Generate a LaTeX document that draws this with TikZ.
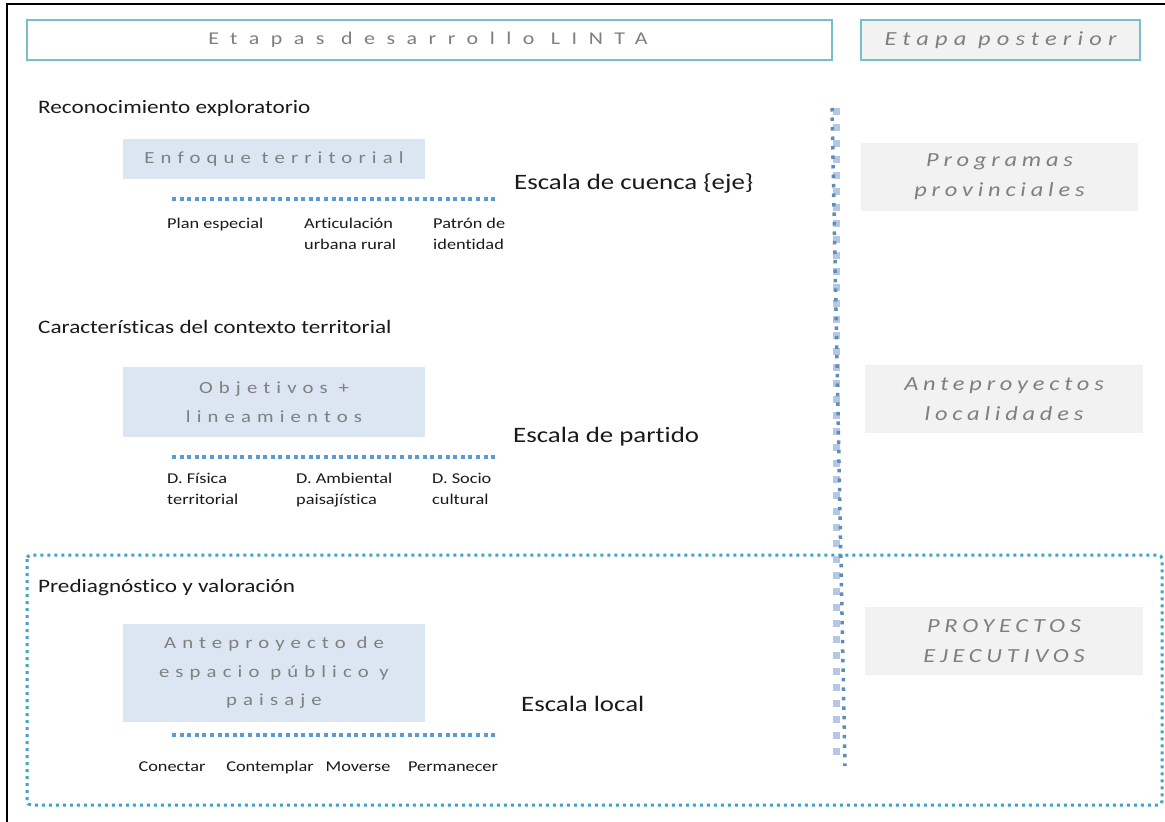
\documentclass[tikz,border=0pt]{standalone}
\usepackage{fontspec}
\setmainfont[FakeStretch=1.22,Ligatures={NoCommon}]{Carlito}
\newfontfamily\titlefont[LetterSpace=64,FakeStretch=1.22,Ligatures={NoCommon}]{Carlito}
\newfontfamily\boxfont[LetterSpace=36,FakeStretch=1.22,Ligatures={NoCommon}]{Carlito}
\newfontfamily\grayfont[LetterSpace=24,FakeStretch=1.22,Ligatures={NoCommon},ItalicFont=Carlito Italic]{Carlito}
\newfontfamily\postfont[LetterSpace=31,FakeStretch=1.22,Ligatures={NoCommon},ItalicFont=Carlito Italic]{Carlito}
\definecolor{tealb}{HTML}{78C0C8}
\definecolor{txtgray}{HTML}{7F7F7F}
\definecolor{bluefill}{HTML}{DCE6F2}
\definecolor{grayfill}{HTML}{F2F2F2}
\definecolor{dotblue}{HTML}{5B9BD5}
\definecolor{frameblue}{HTML}{3FA3C2}
\definecolor{vlight}{HTML}{B4C7E7}
\definecolor{vdark}{HTML}{5F8DB4}
\definecolor{ink}{HTML}{1A1A1A}
\begin{document}
\begin{tikzpicture}[x=1pt,y=-1pt,
  hdrbox/.style={draw=tealb,line width=1.5pt,inner sep=0pt,text=txtgray},
  bluebox/.style={fill=bluefill,inner sep=0pt,text=txtgray,align=center,
    font=\boxfont\fontsize{17}{28.5}\selectfont},
  graybox/.style={fill=grayfill,inner sep=0pt,text=txtgray,align=center,
    font=\grayfont\itshape\fontsize{20}{30}\selectfont},
  heading/.style={anchor=west,inner sep=0pt,text=ink,font=\fontsize{19}{23}\selectfont},
  escala/.style={anchor=west,inner sep=0pt,text=ink,font=\fontsize{22}{26}\selectfont},
  sublabel/.style={inner sep=0pt,text=ink,align=left,font=\fontsize{15}{21}\selectfont},
  hdots/.style={draw=dotblue,line width=4pt,dash pattern=on 4pt off 3.6pt},
]
\useasboundingbox (0,0) rectangle (1165,822);
\fill[white] (0,0) rectangle (1165,822);
% outer border
\draw[black,line width=2pt] (7,822) -- (7,4) -- (1166,4);

% header boxes
\node[hdrbox,fill=white,minimum width=805,minimum height=40] (title) at (429.5,40) {};
\node[inner sep=0pt,text=txtgray,font=\titlefont\fontsize{18}{22}\selectfont]
  (titletxt) at (428,40) {Etapas desarrollo LINTA};
\node[hdrbox,fill=grayfill,minimum width=279,minimum height=40,
  font=\postfont\itshape\fontsize{20}{24}\selectfont] (post) at (1000.5,40) {Etapa posterior};

% dotted frame
\draw[draw=frameblue,line width=3pt,dash pattern=on 3pt off 4pt,rounded corners=4pt]
  (27,555) rectangle (1162,805);

% vertical dotted lines
\coordinate (vtop) at (836,108);
\coordinate (vbot) at (836,757);
\coordinate (dtop) at (832,108);
\coordinate (dbot) at (845,766);
\draw[draw=vlight,line width=7pt,dash pattern=on 7pt off 9pt] (vtop) -- (vbot);
\draw[draw=vdark,line width=3.5pt,dash pattern=on 3.5pt off 6pt] (dtop) -- (dbot);

% headings
\node[heading] (h1) at (38,108) {Reconocimiento exploratorio};
\node[heading] (h2) at (38,327) {Características del contexto territorial};
\node[heading] (h3) at (38,588) {Prediagnóstico y valoración};

% blue boxes
\node[bluebox,minimum width=302,minimum height=40] (b1) at (274,159) {Enfoque territorial};
\node[bluebox,minimum width=302,minimum height=70] (b2) at (274,402) {Objetivos +\\lineamientos};
\node[bluebox,minimum width=302,minimum height=98] (b3) at (274,673) {Anteproyecto de\\espacio público y\\paisaje};

% horizontal dotted lines
\coordinate (l1a) at (172,199); \coordinate (l1b) at (498,199);
\coordinate (l2a) at (172,457); \coordinate (l2b) at (498,457);
\coordinate (l3a) at (172,735); \coordinate (l3b) at (498,735);
\draw[hdots] (l1a) -- (l1b);
\draw[hdots] (l2a) -- (l2b);
\draw[hdots] (l3a) -- (l3b);

% sub labels
\node[sublabel,anchor=north west] (s11) at (167,218) {Plan especial};
\node[sublabel,anchor=north west] (s12) at (304,218) {Articulación\\urbana rural};
\node[sublabel,anchor=north west] (s13) at (433,218) {Patrón de\\identidad};
\node[sublabel,anchor=north west] (s21) at (167,473) {D. Física\\territorial};
\node[sublabel,anchor=north west] (s22) at (296,473) {D. Ambiental\\paisajística};
\node[sublabel,anchor=north west] (s23) at (432,473) {D. Socio\\cultural};
\node[sublabel] (s31) at (172,767) {Conectar};
\node[sublabel] (s32) at (270,767) {Contemplar};
\node[sublabel] (s33) at (358,767) {Moverse};
\node[sublabel] (s34) at (453,767) {Permanecer};

% escala labels
\node[escala] (e1) at (514,183) {Escala de cuenca \{eje\}};
\node[escala] (e2) at (513,437) {Escala de partido};
\node[escala] (e3) at (521,704) {Escala local};

% gray boxes
\node[graybox,minimum width=277,minimum height=68] (g1) at (999.5,177) {Programas\\provinciales};
\node[graybox,minimum width=278,minimum height=68] (g2) at (1004,399) {Anteproyectos\\localidades};
\node[graybox,minimum width=278,minimum height=68] (g3) at (1004,641) {PROYECTOS\\EJECUTIVOS};
\end{tikzpicture}
\end{document}
